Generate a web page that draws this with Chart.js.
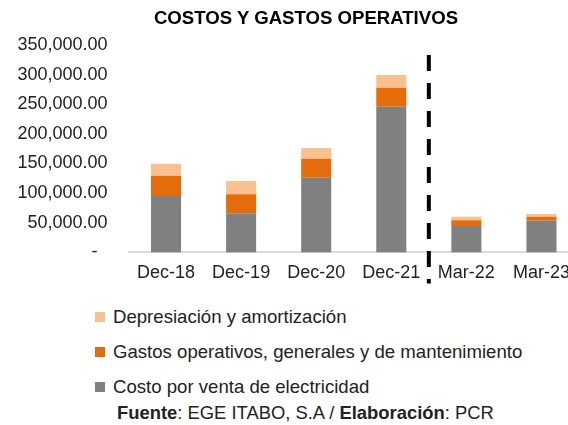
<!DOCTYPE html>
<html>
<head>
<meta charset="utf-8">
<script src="https://cdn.jsdelivr.net/npm/chart.js@4/dist/chart.umd.min.js"></script>
<style>
  html, body { margin: 0; padding: 0; background: #fff; }
  body { width: 568px; height: 425px; overflow: hidden; position: relative;
         font-family: "Liberation Sans", Arial, sans-serif; color: #222; }
  #title { position: absolute; left: 0; top: 7px; width: 612px; text-align: center;
           font-weight: bold; font-size: 18.6px; line-height: 22px; color: #000; }
  #wrap { position: absolute; left: 0; top: 0; width: 612px; height: 286px; }
  #legend { position: absolute; left: 95px; top: 307px; margin: 0; padding: 0; list-style: none; }
  #legend li { height: 35px; display: flex; align-items: flex-start; font-size: 18.6px; line-height: 20px; }
  #legend li span.box { width: 10px; height: 10px; margin: 5px 8px 0 0; flex: none; }
  #source { position: absolute; left: 117px; top: 403px; font-size: 18.4px; line-height: 20px; white-space: nowrap; }
</style>
</head>
<body>
<div id="wrap"><canvas id="bar-chart"></canvas></div>
<div id="title">COSTOS Y GASTOS OPERATIVOS</div>
<ul id="legend"></ul>
<div id="source"><b>Fuente</b>: EGE ITABO, S.A / <b>Elaboración</b>: PCR</div>
<script>
const categories = ["Dec-18", "Dec-19", "Dec-20", "Dec-21", "Mar-22", "Mar-23"];
const costoVenta = [95000, 66000, 126000, 246000, 44700, 54000];
const gastosOperativos = [34500, 32000, 32000, 32000, 9700, 6000];
const depreciacion = [20000, 22600, 18000, 21500, 5700, 5000];
const yMax = 350000;
const yStep = 50000;

// dashed separator between the annual and the quarterly figures
const separator = {
  id: 'separator',
  afterDraw(chart) {
    const x = chart.scales.x;
    const px = (x.getPixelForValue(3) + x.getPixelForValue(4)) / 2;
    const ctx = chart.ctx;
    ctx.save();
    ctx.strokeStyle = '#000';
    ctx.lineWidth = 4;
    ctx.setLineDash([16, 12]);
    ctx.beginPath();
    ctx.moveTo(px, chart.chartArea.top + 10);
    ctx.lineTo(px, chart.chartArea.bottom + 31);
    ctx.stroke();
    ctx.restore();
  }
};

const chart = new Chart(document.getElementById("bar-chart"), {
  type: 'bar',
  data: {
    labels: categories,
    datasets: [
      { label: "Costo por venta de electricidad", backgroundColor: "#808080", data: costoVenta },
      { label: "Gastos operativos, generales y de mantenimiento", backgroundColor: "#E46C0A", data: gastosOperativos },
      { label: "Depresiación y amortización", backgroundColor: "#FAC090", data: depreciacion }
    ]
  },
  options: {
    responsive: true,
    maintainAspectRatio: false,
    animation: false,
    categoryPercentage: 0.8,
    barPercentage: 0.5,
    layout: { padding: { left: 14, right: 33, top: 45, bottom: 0 } },
    plugins: {
      legend: { display: false },
      tooltip: { enabled: false },
      title: { display: false }
    },
    scales: {
      x: {
        stacked: true,
        grid: { display: false },
        border: { display: true, color: '#d9d9d9', width: 2 },
        ticks: { color: '#222', padding: 2, font: { family: '"Liberation Sans", Arial, sans-serif', size: 18 } }
      },
      y: {
        stacked: true,
        min: 0,
        max: yMax,
        grid: { display: false },
        border: { display: false },
        afterFit: axis => { axis.width = 114.5; },
        ticks: {
          stepSize: yStep,
          color: '#222',
          padding: 13,
          font: { family: '"Liberation Sans", Arial, sans-serif', size: 18 },
          callback: v => v === 0 ? '-  ' : v.toLocaleString('en-US', { minimumFractionDigits: 2, maximumFractionDigits: 2 })
        }
      }
    }
  },
  plugins: [separator]
});

// legend in a single column, top of the stack first
const legend = document.getElementById('legend');
chart.data.datasets.slice().reverse().forEach(ds => {
  const li = document.createElement('li');
  const box = document.createElement('span');
  box.className = 'box';
  box.style.background = ds.backgroundColor;
  li.appendChild(box);
  li.appendChild(document.createTextNode(ds.label));
  legend.appendChild(li);
});
</script>
</body>
</html>
